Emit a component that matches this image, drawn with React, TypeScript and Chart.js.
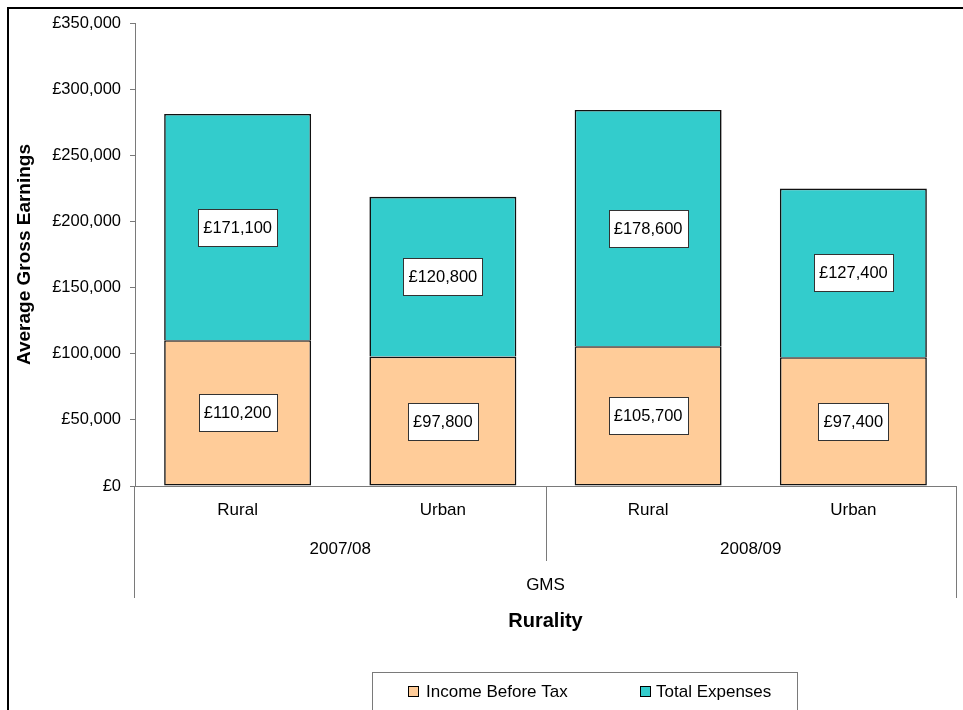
import React, { useEffect, useRef } from 'react';
import { Chart, registerables } from 'chart.js';

Chart.register(...registerables);

const categories = ['Rural', 'Urban', 'Rural', 'Urban'];
const periods = ['2007/08', '2007/08', '2008/09', '2008/09'];
const topGroup = 'GMS';
const incomeBeforeTax = [110200, 97800, 105700, 97400];
const totalExpenses = [171100, 120800, 178600, 127400];
const seriesNames = ['Income Before Tax', 'Total Expenses'];
const seriesColors = ['#FFCC99', '#33CCCC'];
const yAxisTitle = 'Average Gross Earnings';
const xAxisTitle = 'Rurality';

const FONT = "'Liberation Sans', Arial, sans-serif";
const AXIS_GRAY = '#7a7a7a';
const TXT = 17;

const fmt = (v: number) => '£' + Number(v).toLocaleString('en-GB');

const decorPlugin = {
  id: 'decor',
  afterDraw(chart: any) {
    const ctx = chart.ctx as CanvasRenderingContext2D;
    const area = chart.chartArea;
    const xs = chart.scales.x;
    ctx.save();

    // outer frame
    ctx.strokeStyle = '#000';
    ctx.lineWidth = 2;
    ctx.beginPath();
    ctx.moveTo(8, 720);
    ctx.lineTo(8, 8);
    ctx.lineTo(980, 8);
    ctx.stroke();

    // category axis extension lines
    const extBottom = 598;
    ctx.strokeStyle = AXIS_GRAY;
    ctx.lineWidth = 1;
    ctx.beginPath();
    ctx.moveTo(Math.round(area.left) - 0.5, area.bottom);
    ctx.lineTo(Math.round(area.left) - 0.5, extBottom);
    ctx.moveTo(Math.round(area.right) + 0.5, area.bottom);
    ctx.lineTo(Math.round(area.right) + 0.5, extBottom);
    ctx.stroke();

    // period groups
    const groups: { label: string; first: number; last: number }[] = [];
    periods.forEach((p, i) => {
      const g = groups[groups.length - 1];
      if (g && g.label === p) g.last = i;
      else groups.push({ label: p, first: i, last: i });
    });
    ctx.font = `${TXT}px ${FONT}`;
    ctx.fillStyle = '#000';
    ctx.textAlign = 'center';
    ctx.textBaseline = 'middle';
    groups.forEach((g, gi) => {
      const x0 = xs.getPixelForValue(g.first);
      const x1 = xs.getPixelForValue(g.last);
      ctx.fillText(g.label, (x0 + x1) / 2, 549);
      if (gi < groups.length - 1) {
        const next = groups[gi + 1];
        const xd = Math.round((xs.getPixelForValue(g.last) + xs.getPixelForValue(next.first)) / 2) + 0.5;
        ctx.beginPath();
        ctx.moveTo(xd, area.bottom);
        ctx.lineTo(xd, 561);
        ctx.stroke();
      }
    });
    ctx.fillText(topGroup, (area.left + area.right) / 2, 585);

    // data labels
    ctx.font = `16.5px ${FONT}`;
    chart.data.datasets.forEach((ds: any, di: number) => {
      const meta = chart.getDatasetMeta(di);
      meta.data.forEach((el: any, i: number) => {
        const text = fmt(ds.data[i]);
        const cy = (el.y + el.base) / 2;
        const tw = ctx.measureText(text).width;
        const bw = Math.round(tw + 10);
        const bh = 37;
        const bx = Math.round(el.x - bw / 2) + 0.5;
        const by = Math.round(cy - bh / 2) + 0.5;
        ctx.fillStyle = '#fff';
        ctx.fillRect(bx, by, bw, bh);
        ctx.strokeStyle = '#333';
        ctx.lineWidth = 1;
        ctx.strokeRect(bx, by, bw, bh);
        ctx.fillStyle = '#000';
        ctx.fillText(text, el.x, cy + 1);
      });
    });

    // legend
    ctx.font = `${TXT}px ${FONT}`;
    ctx.strokeStyle = AXIS_GRAY;
    ctx.lineWidth = 1;
    ctx.strokeRect(372.5, 672.5, 425, 60);
    const items = [
      { x: 408, tx: 426 },
      { x: 640, tx: 656 },
    ];
    ctx.textAlign = 'left';
    items.forEach((it, i) => {
      ctx.fillStyle = seriesColors[i];
      ctx.fillRect(it.x + 0.5, 686.5, 10, 10);
      ctx.strokeStyle = '#000';
      ctx.strokeRect(it.x + 0.5, 686.5, 10, 10);
      ctx.fillStyle = '#000';
      ctx.fillText(seriesNames[i], it.tx, 692);
    });

    ctx.restore();
  },
};

export default function App() {
  const ref = useRef<HTMLCanvasElement | null>(null);

  useEffect(() => {
    if (!ref.current) return;
    const chart = new Chart(ref.current, {
      type: 'bar',
      data: {
        labels: categories,
        datasets: [
          {
            label: seriesNames[0],
            data: incomeBeforeTax,
            backgroundColor: seriesColors[0],
            borderColor: '#111',
            borderWidth: 1.6,
            borderSkipped: false,
          },
          {
            label: seriesNames[1],
            data: totalExpenses,
            backgroundColor: seriesColors[1],
            borderColor: '#111',
            borderWidth: 1.6,
            borderSkipped: 'bottom',
          },
        ],
      },
      options: {
        responsive: false,
        animation: false,
        devicePixelRatio: 1,
        layout: { padding: { left: 0, top: 23, right: 7, bottom: 0 } },
        datasets: { bar: { categoryPercentage: 1, barPercentage: 0.716 } },
        plugins: {
          legend: { display: false },
          tooltip: { enabled: false },
          title: { display: false },
        },
        scales: {
          x: {
            stacked: true,
            grid: { display: false, drawTicks: false, tickLength: 0 },
            border: { display: true, color: AXIS_GRAY, width: 1 },
            ticks: {
              color: '#000',
              font: { family: FONT, size: TXT },
              padding: 14,
              maxRotation: 0,
              autoSkip: false,
            },
            title: {
              display: true,
              text: xAxisTitle,
              color: '#000',
              font: { family: FONT, size: 20, weight: 'bold' },
              padding: { top: 0, bottom: 77 },
            },
            afterFit(scale: any) {
              scale.height = 224;
            },
          },
          y: {
            stacked: true,
            min: 0,
            max: 350000,
            grid: {
              display: true,
              drawOnChartArea: false,
              drawTicks: true,
              tickLength: 5,
              color: AXIS_GRAY,
            },
            border: { display: true, color: AXIS_GRAY, width: 1 },
            ticks: {
              stepSize: 50000,
              color: '#000',
              font: { family: FONT, size: 16.5 },
              padding: 9,
              callback: (v: any) => fmt(v),
            },
            title: {
              display: true,
              text: yAxisTitle,
              color: '#000',
              font: { family: FONT, size: 19, weight: 'bold' },
              padding: { top: 13, bottom: 0 },
            },
            afterFit(scale: any) {
              scale.width = 135;
            },
          },
        },
      } as any,
      plugins: [decorPlugin],
    });
    return () => chart.destroy();
  }, []);

  return (
    <div style={{ position: 'fixed', left: 0, top: 0, width: 963, height: 710, background: '#fff' }}>
      <canvas ref={ref} width={963} height={710} style={{ display: 'block', width: 963, height: 710 }} />
    </div>
  );
}
